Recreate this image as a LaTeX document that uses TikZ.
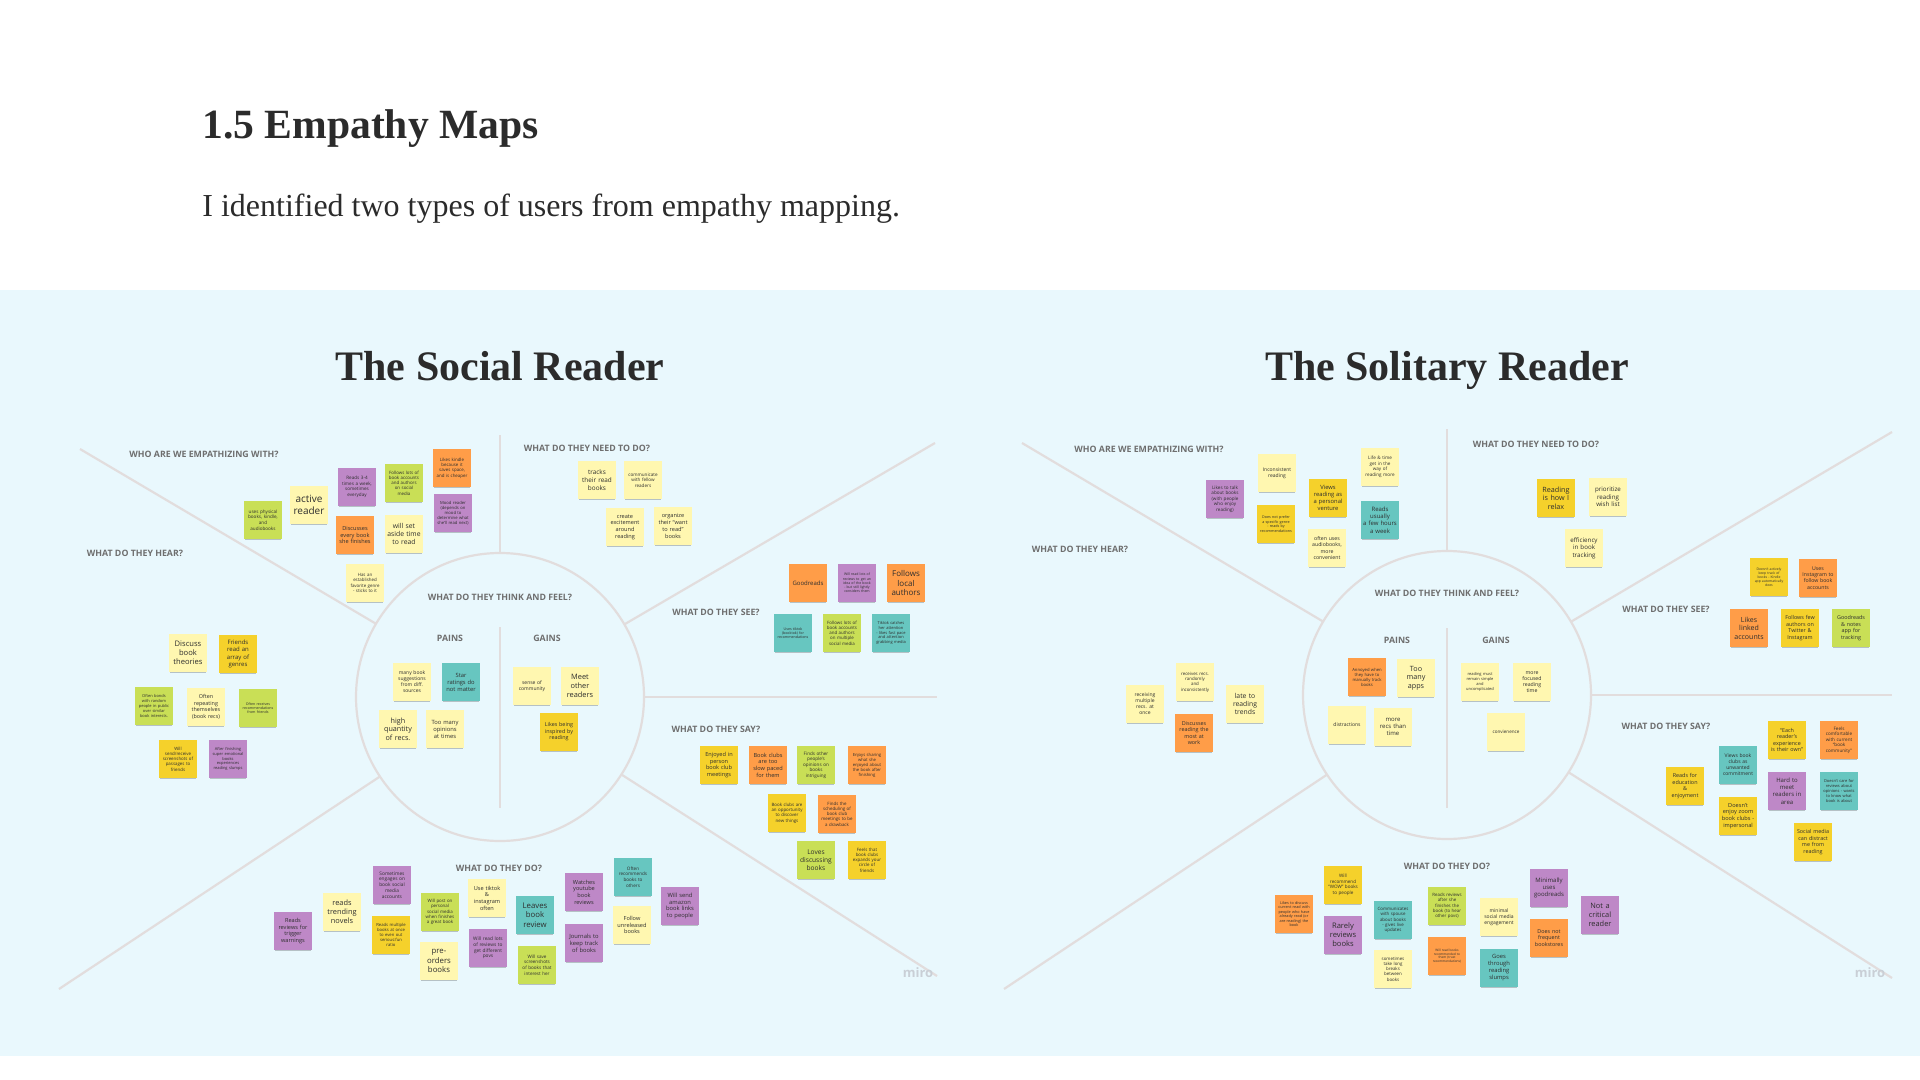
\documentclass[tikz,border=0pt]{standalone}
\usepackage{fontspec}
\setmainfont{Liberation Serif}
\setsansfont{Open Sans}
\usetikzlibrary{calc,shadows}
\definecolor{BoardPanel}{HTML}{E9F8FD}
\definecolor{MapLine}{HTML}{E2DDDD}
\definecolor{ZoneGrey}{HTML}{6E6E6E}
\definecolor{TitleInk}{HTML}{2B2B2B}
\definecolor{NoteInk}{HTML}{2E2E2E}
\definecolor{MiroGrey}{HTML}{C9CFD6}
\definecolor{NotePale}{HTML}{FFF7B0}
\definecolor{NoteGold}{HTML}{F5D12B}
\definecolor{NotePeach}{HTML}{FF9D48}
\definecolor{NoteLilac}{HTML}{BE88C7}
\definecolor{NoteLime}{HTML}{C9DF56}
\definecolor{NoteAqua}{HTML}{67C6C0}
\newcommand\notesize[1]{\fontsize{#1pt}{\dimexpr #1pt*6/5\relax}\selectfont}

\begin{document}
\begin{tikzpicture}[
  x=0.5pt,
  y=-0.5pt,
  note/.style={
    align=center,
    text width=17pt,
    minimum height=19pt,
    inner sep=1pt,
    text=NoteInk,
    font=\sffamily,
    drop shadow={shadow xshift=0pt, shadow yshift=-1.1pt, shadow scale=0.96, opacity=0.22, fill=black}
  },
  fs/.style={font=\sffamily\notesize{#1}},
  palenote/.style={note, fill=NotePale},
  goldnote/.style={note, fill=NoteGold},
  peachnote/.style={note, fill=NotePeach},
  lilacnote/.style={note, fill=NoteLilac},
  limenote/.style={note, fill=NoteLime},
  aquanote/.style={note, fill=NoteAqua},
  zone/.style={font=\sffamily\bfseries\fontsize{4.4pt}{5pt}\selectfont, text=ZoneGrey, inner sep=0pt},
  mapline/.style={draw=MapLine, line width=1.1pt},
  maptitle/.style={anchor=base, font=\bfseries\fontsize{21pt}{24pt}\selectfont, text=TitleInk, inner sep=0pt},
  watermark/.style={font=\sffamily\bfseries\fontsize{6.5pt}{7pt}\selectfont, text=MiroGrey, inner sep=0pt}
]
\useasboundingbox (0,0) rectangle (1920,1080);
\fill[white] (0,0) rectangle (1920,1080);
\fill[BoardPanel] (0,290) rectangle (1920,1056);

\node[anchor=west, inner sep=0pt, text=TitleInk, font=\bfseries\fontsize{20.8pt}{24pt}\selectfont] (pagetitle) at (202,129) {1.5 Empathy Maps};
\node[anchor=west, inner sep=0pt, text=TitleInk, font=\fontsize{16pt}{19pt}\selectfont] (pageintro) at (202,209) {I identified two types of users from empathy mapping.};

\node[maptitle] (socialtitle) at (500,380) {The Social Reader};
\node[maptitle] (solitarytitle) at (1447,380) {The Solitary Reader};

% map frames
\coordinate (L) at (500,697);
\coordinate (LTL) at (80,449);
\coordinate (LTop) at (500,435);
\coordinate (LTR) at (935,443);
\coordinate (LRight) at (937,697);
\coordinate (LBR) at (937,976);
\coordinate (LBL) at (59,989);
\coordinate (R) at (1447,695);
\coordinate (RTL) at (1022,443);
\coordinate (RTop) at (1447,429);
\coordinate (RTR) at (1892,432);
\coordinate (RRight) at (1892,695);
\coordinate (RBR) at (1892,978);
\coordinate (RBL) at (1004,989);

\foreach \c in {L,R} {
  \draw[mapline] (\c) circle[radius=72pt];
  \foreach \p in {TL,Top,TR,Right,BR,BL}
    \draw[mapline] ($(\c)!72pt!(\c\p)$) -- (\c\p);
}
\draw[mapline] (500,627) -- (500,808);
\draw[mapline] (1447,628) -- (1447,808);

\node[watermark] (socialmiro) at (918,973) {miro};
\node[watermark] (solitarymiro) at (1870,973) {miro};

\node[zone] (sWhoLabel) at (204,454) {WHO ARE WE EMPATHIZING WITH?};
\node[zone] (sHearLabel) at (135,553) {WHAT DO THEY HEAR?};
\node[zone] (sNeedLabel) at (587,448) {WHAT DO THEY NEED TO DO?};
\node[zone] (sThinkLabel) at (500,597) {WHAT DO THEY THINK AND FEEL?};
\node[zone] (sPainsLabel) at (450,638) {PAINS};
\node[zone] (sGainsLabel) at (547,638) {GAINS};
\node[zone] (sSeeLabel) at (716,612) {WHAT DO THEY SEE?};
\node[zone] (sSayLabel) at (716,729) {WHAT DO THEY SAY?};
\node[zone] (sDoLabel) at (499,868) {WHAT DO THEY DO?};

\node[zone] (rWhoLabel) at (1149,449) {WHO ARE WE EMPATHIZING WITH?};
\node[zone] (rHearLabel) at (1080,549) {WHAT DO THEY HEAR?};
\node[zone] (rNeedLabel) at (1536,444) {WHAT DO THEY NEED TO DO?};
\node[zone] (rThinkLabel) at (1447,593) {WHAT DO THEY THINK AND FEEL?};
\node[zone] (rPainsLabel) at (1397,640) {PAINS};
\node[zone] (rGainsLabel) at (1496,640) {GAINS};
\node[zone] (rSeeLabel) at (1666,609) {WHAT DO THEY SEE?};
\node[zone] (rSayLabel) at (1666,726) {WHAT DO THEY SAY?};
\node[zone] (rDoLabel) at (1447,866) {WHAT DO THEY DO?};

% the social reader
\node[limenote, fs=2.3] (sPhysical) at (263,520) {uses physical\\books, kindle,\\and\\audiobooks};
\node[palenote, fs=5] (sActive) at (309,505) {active\\reader};
\node[lilacnote, fs=2.3] (sWeekly) at (357,487) {Reads 3-4\\times a week,\\sometimes\\everyday};
\node[peachnote, fs=2.8] (sDiscuss) at (355,535) {Discusses\\every book\\she finishes};
\node[limenote, fs=2.2] (sFollowsLots) at (404,483) {Follows lots of\\book accounts\\and authors\\on social\\media};
\node[palenote, fs=3.4] (sSetTime) at (404,534) {will set\\aside time\\to read};
\node[peachnote, fs=2.2] (sKindle) at (452,468) {Likes kindle\\because it\\saves space,\\and is cheaper};
\node[lilacnote, fs=2.1] (sMood) at (453,513) {Mood reader\\(depends on\\mood to\\determine what\\she'll read next)};
\node[palenote, fs=2.2] (sGenre) at (365,583) {Has an\\established\\favorite genre\\- sticks to it};

\node[palenote, fs=3.2] (sTracks) at (597,480) {tracks\\their read\\books};
\node[palenote, fs=2.3] (sCommunicate) at (643,480) {communicate\\with fellow\\readers};
\node[palenote, fs=2.8] (sExcite) at (625,527) {create\\excitement\\around\\reading};
\node[palenote, fs=2.8] (sOrganize) at (673,526) {organize\\their ``want\\to read''\\books};

\node[peachnote, fs=3] (sGoodreads) at (808,583) {Goodreads};
\node[lilacnote, fs=1.75] (sReviewsIdea) at (857,583) {Will read lots of\\reviews to get an\\idea of the book\\- but still lightly\\considers them};
\node[peachnote, fs=4] (sLocal) at (906,583) {Follows\\local\\authors};
\node[aquanote, fs=1.8] (sBooktok) at (793,633) {Uses tiktok\\(booktok) for\\recommendations};
\node[limenote, fs=2.2] (sFollowsMulti) at (842,633) {Follows lots of\\book accounts\\and authors\\on multiple\\social media};
\node[aquanote, fs=2] (sTiktok) at (891,633) {Tiktok catches\\her attention\\- likes fast pace\\and attention\\grabbing media};

\node[palenote, fs=3.8] (sTheories) at (188,653) {Discuss\\book\\theories};
\node[goldnote, fs=3] (sArray) at (238,654) {Friends\\read an\\array of\\genres};
\node[limenote, fs=2] (sBonds) at (154,706) {Often bonds\\with random\\people in public\\over similar\\book interests.};
\node[palenote, fs=2.7] (sRepeat) at (206,707) {Often\\repeating\\themselves\\(book recs)};
\node[limenote, fs=1.8] (sReceives) at (258,708) {Often receives\\recommendations\\from friends};
\node[goldnote, fs=2.2] (sScreens) at (178,759) {Will\\send/receive\\screenshots of\\passages to\\friends};
\node[lilacnote, fs=2] (sSlumps) at (228,759) {After finishing\\super emotional\\books\\experiences\\reading slumps};

\node[palenote, fs=2.5] (sSuggest) at (412,682) {many book\\suggestions\\from diff.\\sources};
\node[aquanote, fs=2.9] (sStars) at (461,682) {Star\\ratings do\\not matter};
\node[palenote, fs=3.6] (sQuantity) at (398,729) {high\\quantity\\of recs.};
\node[palenote, fs=2.9] (sOpinions) at (445,729) {Too many\\opinions\\at times};
\node[palenote, fs=2.5] (sCommunity) at (532,686) {sense of\\community};
\node[palenote, fs=3.7] (sMeet) at (580,686) {Meet\\other\\readers};
\node[goldnote, fs=2.7] (sInspired) at (559,732) {Likes being\\inspired by\\reading};

\node[goldnote, fs=2.8] (sInPerson) at (719,765) {Enjoyed in\\person\\book club\\meetings};
\node[peachnote, fs=2.8] (sSlowPaced) at (768,765) {Book clubs\\are too\\slow paced\\for them};
\node[limenote, fs=2.3] (sIntriguing) at (816,765) {Finds other\\people's\\opinions on\\books\\intriguing};
\node[peachnote, fs=2.1] (sSharing) at (867,765) {Enjoys sharing\\what she\\enjoyed about\\the book after\\finishing};
\node[goldnote, fs=2.2] (sDiscover) at (787,813) {Book clubs are\\an opportunity\\to discover\\new things};
\node[peachnote, fs=2.2] (sScheduling) at (837,814) {Finds the\\scheduling of\\book club\\meetings to be\\a drawback};
\node[limenote, fs=3.3] (sLoves) at (816,860) {Loves\\discussing\\books};
\node[goldnote, fs=2.2] (sCircle) at (867,860) {Feels that\\book clubs\\expands your\\circle of\\friends};

\node[lilacnote, fs=2.8] (sTrigger) at (293,931) {Reads\\reviews for\\trigger\\warnings};
\node[palenote, fs=3.7] (sTrending) at (342,912) {reads\\trending\\novels};
\node[lilacnote, fs=2.4] (sEngages) at (392,885) {Sometimes\\engages on\\book social\\media\\accounts};
\node[goldnote, fs=2.1] (sMultiple) at (391,935) {Reads multiple\\books at once\\to even out\\serious:fun\\ratio};
\node[limenote, fs=2.2] (sPost) at (440,912) {Will post on\\personal\\social media\\when finishes\\a great book};
\node[palenote, fs=3.9] (sPreorder) at (439,961) {pre-\\orders\\books};
\node[palenote, fs=2.8] (sTiktokIg) at (487,898) {Use tiktok\\\&\\instagram\\often};
\node[lilacnote, fs=2.4] (sPovs) at (488,948) {Will read lots\\of reviews to\\get different\\povs};
\node[aquanote, fs=3.9] (sLeaves) at (535,915) {Leaves\\book\\review};
\node[limenote, fs=2.3] (sSaveShots) at (537,965) {Will save\\screenshots\\of books that\\interest her};
\node[lilacnote, fs=2.8] (sYoutube) at (584,892) {Watches\\youtube\\book\\reviews};
\node[lilacnote, fs=2.9] (sJournals) at (584,943) {Journals to\\keep track\\of books};
\node[aquanote, fs=2.3] (sRecommends) at (633,877) {Often\\recommends\\books to\\others};
\node[palenote, fs=2.8] (sUnreleased) at (632,925) {Follow\\unreleased\\books};
\node[lilacnote, fs=2.9] (sAmazon) at (680,906) {Will send\\amazon\\book links\\to people};

% the solitary reader
\node[lilacnote, fs=2.3] (rTalk) at (1225,499) {Likes to talk\\about books\\(with people\\who enjoy\\reading)};
\node[palenote, fs=2.5] (rInconsistent) at (1277,473) {Inconsistent\\reading};
\node[goldnote, fs=1.85] (rNoGenre) at (1276,524) {Does not prefer\\a specific genre\\- reads by\\recommendations};
\node[goldnote, fs=2.9] (rVenture) at (1328,498) {Views\\reading as\\a personal\\venture};
\node[palenote, fs=2.6] (rAudio) at (1327,548) {often uses\\audiobooks,\\more\\convenient};
\node[palenote, fs=2.3] (rLife) at (1380,467) {Life \& time\\get in the\\way of\\reading more};
\node[aquanote, fs=3] (rHours) at (1380,520) {Reads\\usually\\a few hours\\a week};

\node[goldnote, fs=3.6] (rRelax) at (1556,498) {Reading\\is how I\\relax};
\node[palenote, fs=3.1] (rWishList) at (1608,497) {prioritize\\reading\\wish list};
\node[palenote, fs=3.1] (rEfficiency) at (1584,548) {efficiency\\in book\\tracking};

\node[goldnote, fs=1.7] (rKindleApp) at (1769,577) {Doesn't actively\\keep track of\\books - Kindle\\app automatically\\does};
\node[peachnote, fs=2.6] (rInstagram) at (1818,578) {Uses\\Instagram to\\follow book\\accounts};
\node[peachnote, fs=3.5] (rLinked) at (1749,628) {Likes\\linked\\accounts};
\node[goldnote, fs=2.7] (rTwitter) at (1800,628) {Follows few\\authors on\\Twitter \&\\Instagram};
\node[limenote, fs=2.7] (rNotesApp) at (1851,628) {Goodreads\\\& notes\\app for\\tracking};

\node[palenote, fs=2.5] (rMultipleRecs) at (1145,704) {receiving\\multiple\\recs. at\\once};
\node[palenote, fs=2.2] (rRandom) at (1195,682) {receives recs.\\randomly\\and\\inconsistently};
\node[peachnote, fs=2.7] (rAtWork) at (1194,733) {Discusses\\reading the\\most at\\work};
\node[palenote, fs=3.4] (rLate) at (1245,704) {late to\\reading\\trends};

\node[peachnote, fs=2.1] (rManual) at (1367,677) {Annoyed when\\they have to\\manually track\\books};
\node[palenote, fs=3.6] (rApps) at (1416,678) {Too\\many\\apps};
\node[palenote, fs=2.5] (rDistract) at (1347,725) {distractions};
\node[palenote, fs=3] (rMoreRecs) at (1393,727) {more\\recs than\\time};
\node[palenote, fs=2] (rSimple) at (1480,682) {reading must\\remain simple\\and\\uncomplicated};
\node[palenote, fs=2.6] (rFocused) at (1532,682) {more\\focused\\reading\\time};
\node[palenote, fs=2.3] (rConvenience) at (1506,732) {convienence};

\node[goldnote, fs=2.7] (rEducation) at (1685,786) {Reads for\\education\\\&\\enjoyment};
\node[aquanote, fs=2.5] (rCommitment) at (1738,765) {Views book\\clubs as\\unwanted\\commitment};
\node[goldnote, fs=2.8] (rZoom) at (1738,816) {Doesn't\\enjoy zoom\\book clubs -\\impersonal};
\node[goldnote, fs=2.7] (rOwn) at (1787,740) {``Each\\reader's\\experience\\is their own''};
\node[lilacnote, fs=3] (rHardMeet) at (1787,791) {Hard to\\meet\\readers in\\area};
\node[peachnote, fs=2.3] (rComfortable) at (1839,740) {Feels\\comfortable\\with current\\``book\\community''};
\node[aquanote, fs=2] (rOpinionsCare) at (1839,791) {Doesn't care for\\reviews about\\opinions - wants\\to know what\\book is about};
\node[goldnote, fs=2.7] (rDistractMe) at (1813,842) {Social media\\can distract\\me from\\reading};

\node[peachnote, fs=1.9] (rCurrentRead) at (1294,914) {Likes to discuss\\current read with\\people who have\\already read (or\\are reading) the\\book};
\node[goldnote, fs=2.3] (rWow) at (1343,885) {Will\\recommend\\``WOW'' books\\to people};
\node[lilacnote, fs=3.8] (rRarely) at (1343,935) {Rarely\\reviews\\books};
\node[aquanote, fs=2.2] (rSpouse) at (1393,920) {Communicates\\with spouse\\about books\\- gives live\\updates};
\node[palenote, fs=2.2] (rBreaks) at (1393,969) {sometimes\\take long\\breaks\\between\\books};
\node[limenote, fs=2.2] (rAfter) at (1447,906) {Reads reviews\\after she\\finishes the\\book (to hear\\other povs)};
\node[peachnote, fs=1.6] (rTrust) at (1447,956) {Will read books\\recommended to\\them (trust\\recommendations)};
\node[palenote, fs=2.5] (rMinimalSocial) at (1499,917) {minimal\\social media\\engagement};
\node[aquanote, fs=2.9] (rSlumps) at (1499,968) {Goes\\through\\reading\\slumps};
\node[lilacnote, fs=3] (rGoodreads) at (1549,888) {Minimally\\uses\\goodreads};
\node[peachnote, fs=2.7] (rBookstores) at (1549,938) {Does not\\frequent\\bookstores};
\node[lilacnote, fs=3.7] (rCritical) at (1600,915) {Not a\\critical\\reader};
\end{tikzpicture}
\end{document}
